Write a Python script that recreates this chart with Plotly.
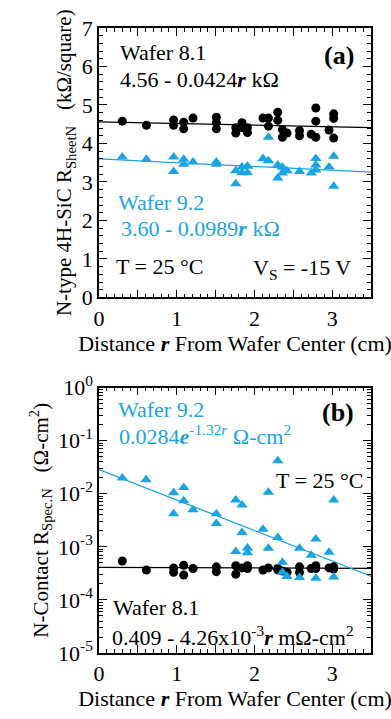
import numpy as np
import plotly.graph_objects as go
from plotly.subplots import make_subplots

BLUE = "#1AA5E2"
FONT = "Times New Roman, Liberation Serif, DejaVu Serif, serif"

# ---- Panel (a): sheet resistance (kOhm/square) ----
r_a81 = [0.30, 0.61, 0.96, 0.96, 1.09, 1.09, 1.21, 1.51, 1.51, 1.51, 1.76, 1.76, 1.84, 1.84,
         1.91, 1.91, 2.11, 2.18, 2.18, 2.30, 2.30, 2.36, 2.36, 2.42, 2.58, 2.58, 2.73, 2.79,
         2.79, 2.79, 2.96, 3.02, 3.02, 3.02]
rs_a81 = [4.58, 4.47, 4.61, 4.47, 4.55, 4.38, 4.66, 4.68, 4.54, 4.38, 4.41, 4.27, 4.54, 4.41,
          4.41, 4.28, 4.66, 4.66, 4.45, 4.81, 4.60, 4.36, 4.16, 4.27, 4.33, 4.20, 4.24, 4.92,
          4.58, 4.16, 4.35, 4.77, 4.65, 4.14]
r_a92 = [0.30, 0.61, 0.96, 0.96, 1.09, 1.09, 1.21, 1.51, 1.51, 1.76, 1.76, 1.84, 1.84, 1.91,
         1.91, 2.11, 2.18, 2.18, 2.30, 2.30, 2.36, 2.36, 2.42, 2.58, 2.73, 2.79, 2.79, 2.79,
         2.96, 3.02, 3.02]
rs_a92 = [3.65, 3.59, 3.65, 3.27, 3.59, 3.46, 3.52, 3.52, 3.46, 3.29, 2.95, 3.39, 3.24, 3.41,
          3.24, 3.61, 4.16, 3.55, 3.44, 3.10, 3.38, 3.23, 3.29, 3.27, 3.23, 3.61, 3.44, 3.31,
          3.39, 3.67, 2.89]
fit_a81 = (4.56, -0.0424)
fit_a92 = (3.60, -0.0989)

# ---- Panel (b): specific contact resistance (Ohm-cm^2) ----
r_b92 = [0.30, 0.605, 0.96, 0.96, 1.09, 1.09, 1.21, 1.51, 1.51, 1.76, 1.76, 1.84, 1.84, 1.91,
         1.91, 2.11, 2.18, 2.18, 2.30, 2.30, 2.36, 2.36, 2.42, 2.58, 2.58, 2.73, 2.79, 2.79,
         2.96, 3.02, 3.02]
rc_b92 = [0.0197, 0.0183, 0.0104, 0.0042, 0.0131, 0.0074, 0.0050, 0.0042, 0.00275, 0.0076,
          0.00082, 0.0061, 0.00186, 0.00095, 0.00077, 0.00214, 0.0107, 0.00094, 0.0416, 0.0015,
          0.00051, 0.00033, 0.000275, 0.00094, 0.000264, 0.00069, 0.0014, 0.000257, 0.00079,
          0.0076, 0.00027]
r_b81 = [0.30, 0.61, 0.96, 0.96, 1.09, 1.09, 1.21, 1.51, 1.51, 1.76, 1.76, 1.84, 1.91, 1.91,
         2.11, 2.18, 2.30, 2.30, 2.36, 2.42, 2.58, 2.58, 2.73, 2.79, 2.79, 2.96, 3.02, 3.02]
rc_b81 = [0.00054, 0.000366, 0.00040, 0.00033, 0.00045, 0.000295, 0.00039, 0.00042, 0.00034,
          0.00044, 0.000304, 0.00040, 0.00044, 0.00039, 0.000366, 0.00040, 0.00039, 0.00037,
          0.00035, 0.00033, 0.00042, 0.00033, 0.00039, 0.00044, 0.00039, 0.00040, 0.00042,
          0.00038]
fit_b81 = (0.409e-3, -4.26e-6)
fit_b92 = (0.0284, -1.32)

r_fit = np.linspace(0, 3.5, 50)

fig = make_subplots(rows=2, cols=1, shared_xaxes=False, vertical_spacing=0.1444)

circ = dict(symbol="circle", size=9, color="black")
tri = dict(symbol="triangle-up", size=10, color=BLUE)

fig.add_trace(go.Scatter(x=r_fit, y=fit_a81[0] + fit_a81[1] * r_fit, mode="lines",
                         line=dict(color="black", width=1.3)), row=1, col=1)
fig.add_trace(go.Scatter(x=r_fit, y=fit_a92[0] + fit_a92[1] * r_fit, mode="lines",
                         line=dict(color=BLUE, width=1.3)), row=1, col=1)
fig.add_trace(go.Scatter(x=r_a81, y=rs_a81, mode="markers", marker=circ), row=1, col=1)
fig.add_trace(go.Scatter(x=r_a92, y=rs_a92, mode="markers", marker=tri), row=1, col=1)

fig.add_trace(go.Scatter(x=r_fit, y=fit_b81[0] + fit_b81[1] * r_fit, mode="lines",
                         line=dict(color="black", width=1.3)), row=2, col=1)
fig.add_trace(go.Scatter(x=r_fit, y=fit_b92[0] * np.exp(fit_b92[1] * r_fit), mode="lines",
                         line=dict(color=BLUE, width=1.3)), row=2, col=1)
fig.add_trace(go.Scatter(x=r_b81, y=rc_b81, mode="markers", marker=circ), row=2, col=1)
fig.add_trace(go.Scatter(x=r_b92, y=rc_b92, mode="markers", marker=tri), row=2, col=1)

x_ticks = [0, 0.5, 1, 1.5, 2, 2.5, 3, 3.5]
x_text = ["0", "", "1", "", "2", "", "3", ""]
xtitle = "Distance <b><i>r</i></b> From Wafer Center (cm)"

axis_common = dict(showline=True, linecolor="black", linewidth=1.5, mirror="ticks",
                   ticks="inside", ticklen=8, tickwidth=1.2, tickcolor="black",
                   showgrid=False, zeroline=False,
                   tickfont=dict(family=FONT, size=22, color="black"))

for ax in ("xaxis", "xaxis2"):
    fig.layout[ax].update(**axis_common, range=[0, 3.5], tickmode="array",
                          tickvals=x_ticks, ticktext=x_text,
                          minor=dict(ticks="inside", ticklen=4, tickwidth=1, tickcolor="black",
                                     dtick=0.1, tick0=0, showgrid=False),
                          title=dict(text=xtitle, font=dict(family=FONT, size=22, color="black"),
                                     standoff=4))

fig.layout.yaxis.update(**axis_common, range=[0, 7], dtick=1, tick0=0,
                        minor=dict(ticks="inside", ticklen=4, tickwidth=1, tickcolor="black",
                                   dtick=0.2, showgrid=False),
                        title=dict(text="N-type 4H-SiC R<sub>SheetN</sub>   (kΩ/square)",
                                   font=dict(family=FONT, size=21, color="black"), standoff=4))

y_log_vals = [1e-5, 1e-4, 1e-3, 1e-2, 1e-1, 1]
y_log_text = ["10<sup>-5</sup>", "10<sup>-4</sup>", "10<sup>-3</sup>", "10<sup>-2</sup>",
              "10<sup>-1</sup>", "10<sup>0</sup>"]
fig.layout.yaxis2.update(**axis_common, type="log", range=[-5, 0], tickmode="array",
                         tickvals=y_log_vals, ticktext=y_log_text,
                         minor=dict(ticks="inside", ticklen=4, tickwidth=1, tickcolor="black",
                                    dtick="D1", showgrid=False),
                         title=dict(text="N-Contact R<sub>Spec.N</sub>   (Ω-cm<sup>2</sup>)",
                                    font=dict(family=FONT, size=21, color="black"), standoff=4))

PL, PR, PT, PB = 99, 371, 15, 653


def px(xp, yp):
    return (xp - PL) / (PR - PL), (PB - yp) / (PB - PT)


def note(text, xp, yp, color="black", size=22, anchor="left"):
    x, y = px(xp, yp)
    fig.add_annotation(text=text, x=x, y=y, xref="paper", yref="paper", showarrow=False,
                       xanchor=anchor, yanchor="middle",
                       font=dict(family=FONT, size=size, color=color))


note("Wafer 8.1", 118, 40)
note("4.56 - 0.0424<b><i>r</i></b> kΩ", 118, 68)
note("<b>(a)</b>", 356, 43, size=26, anchor="right")
note("Wafer 9.2", 116, 193, color=BLUE)
note("3.60 - 0.0989<b><i>r</i></b> kΩ", 119, 220, color=BLUE)
note("T = 25 °C", 114, 258)
note("V<sub>S</sub> = -15 V", 251, 261)

note("Wafer 9.2", 116, 404, color=BLUE)
note("0.0284<b><i>e</i></b><sup>-1.32<i>r</i></sup> Ω-cm<sup>2</sup>", 117, 430, color=BLUE)
note("<b>(b)</b>", 356, 407, size=26, anchor="right")
note("T = 25 °C", 365, 477, anchor="right")
note("Wafer 8.1", 111, 607)
note("0.409 - 4.26x10<sup>-3</sup><b><i>r</i></b> mΩ-cm<sup>2</sup>", 110, 636)

fig.update_layout(width=391, height=719, showlegend=False,
                  margin=dict(l=PL, r=391 - PR, t=PT, b=719 - PB),
                  plot_bgcolor="white", paper_bgcolor="white",
                  font=dict(family=FONT, size=22, color="black"))
fig.layout.yaxis.domain = [(PB - 290) / (PB - PT), 1]
fig.layout.yaxis2.domain = [0, (PB - 382) / (PB - PT)]

fig.write_html("out.html")
